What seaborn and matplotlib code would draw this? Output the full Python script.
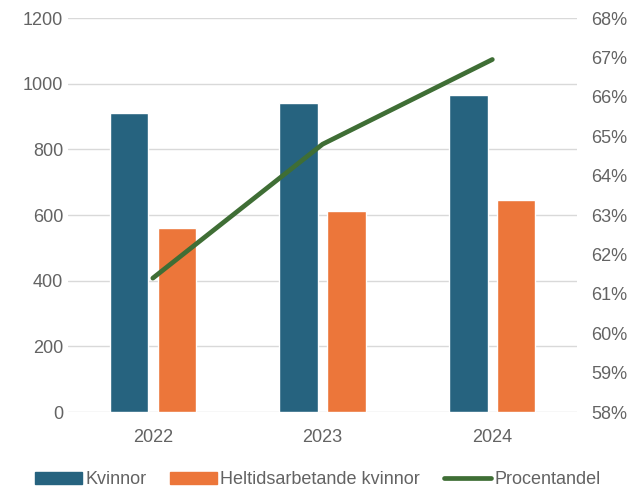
import pandas as pd
import matplotlib.pyplot as plt
import seaborn as sns
from matplotlib.patches import Patch
from matplotlib.lines import Line2D
from matplotlib.ticker import FuncFormatter

years = ['2022', '2023', '2024']
kvinnor = [910, 942, 965]
heltid = [560, 612, 646]
procent = [61.4, 64.8, 66.95]

BLUE = '#26637f'
ORANGE = '#ec763a'
GREEN = '#3f6e35'
TEXT = '#636363'


def main():
    sns.set_style('white')
    plt.rcParams['font.family'] = ['Liberation Sans', 'DejaVu Sans']

    df = pd.DataFrame({
        'year': years * 2,
        'value': kvinnor + heltid,
        'serie': ['Kvinnor'] * 3 + ['Heltidsarbetande kvinnor'] * 3,
    })

    fig = plt.figure(figsize=(6.35, 4.9), dpi=100)
    ax = fig.add_axes([0.107, 0.159, 0.802, 0.804])
    sns.barplot(data=df, x='year', y='value', hue='serie',
                palette=[BLUE, ORANGE], width=0.565, gap=0.2,
                ax=ax, legend=False, saturation=1)
    ax.set_ylim(0, 1200)
    ax.set_yticks(range(0, 1201, 200))
    ax.set_xlim(-0.5, 2.5)
    ax.yaxis.grid(True, color='#d9d9d9', linewidth=1)
    ax.set_axisbelow(True)
    ax.set_xlabel('')
    ax.set_ylabel('')
    for s in ax.spines.values():
        s.set_visible(False)
    ax.tick_params(axis='both', length=0, labelsize=13, labelcolor=TEXT)
    ax.tick_params(axis='x', pad=12)

    ax2 = ax.twinx()
    sns.lineplot(x=[0, 1, 2], y=procent, color=GREEN, linewidth=3.4,
                 ax=ax2, solid_capstyle='round')
    ax2.set_ylim(58, 68)
    ax2.set_yticks(range(58, 69))
    ax2.yaxis.set_major_formatter(FuncFormatter(lambda v, p: f'{v:.0f}%'))
    ax2.tick_params(axis='y', length=0, labelsize=13, labelcolor=TEXT, pad=10)
    for s in ax2.spines.values():
        s.set_visible(False)
    ax2.set_xlim(-0.5, 2.5)

    handles = [Patch(color=BLUE, label='Kvinnor'),
               Patch(color=ORANGE, label='Heltidsarbetande kvinnor'),
               Line2D([0], [0], color=GREEN, linewidth=3.4,
                      solid_capstyle='round', label='Procentandel')]
    fig.legend(handles=handles, loc='lower center', ncol=3, frameon=False,
               fontsize=13, labelcolor=TEXT, bbox_to_anchor=(0.5, -0.03),
               handlelength=2.6, handleheight=0.6, handletextpad=0.2,
               columnspacing=1.3)

    fig.savefig('out.png', dpi=100)
    plt.close()


if __name__ == "__main__":
    main()
